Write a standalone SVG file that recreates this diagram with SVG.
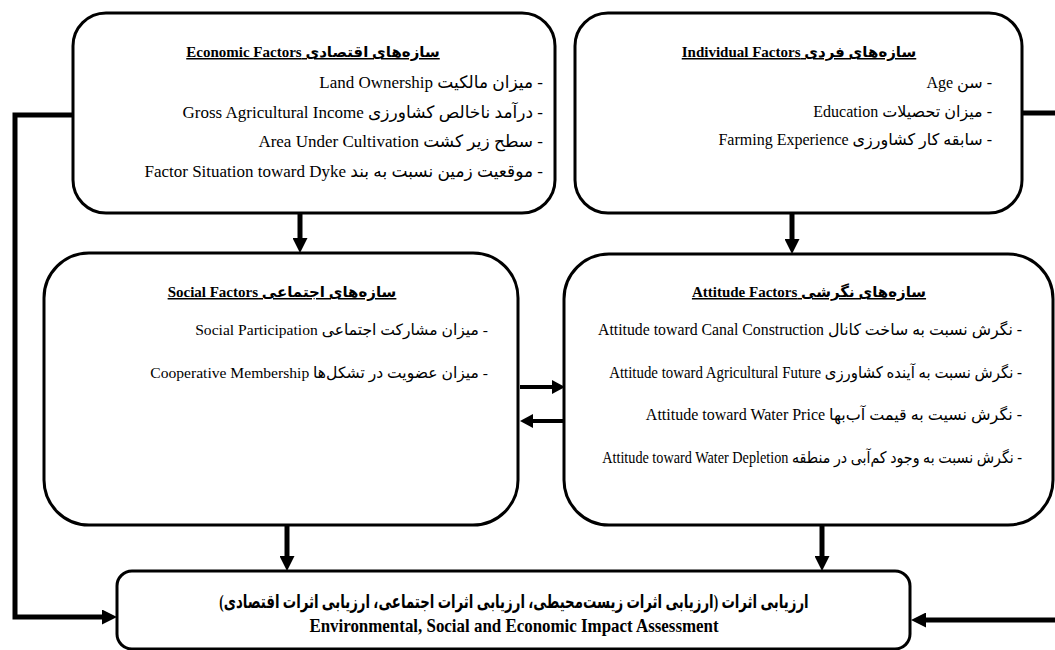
<svg xmlns="http://www.w3.org/2000/svg" width="1055" height="650" viewBox="0 0 1055 650">
<style>
.box{fill:#fff;stroke:#000;stroke-width:3}
.t{font-family:"Liberation Serif","DejaVu Sans",serif;font-size:16px;fill:#000;direction:rtl;text-anchor:start}
.e{font-size:17px}
.s{font-size:15.6px}
.h{font-family:"Liberation Serif","DejaVu Sans",serif;font-size:15px;font-weight:bold;fill:#000;direction:rtl;text-anchor:middle;text-decoration:underline}
.b{font-family:"Liberation Serif","DejaVu Sans",serif;font-weight:bold;fill:#000;direction:rtl;text-anchor:middle}
.c{fill:none;stroke:#000;stroke-width:5}
.cs{fill:none;stroke:#000;stroke-width:4}
</style>
<defs>
<marker id="ah" viewBox="0 0 15 15" markerWidth="15" markerHeight="15" markerUnits="userSpaceOnUse" refX="1" refY="7.5" orient="auto"><path d="M0,0 L15,7.5 L0,15 z" fill="#000"/></marker>
<marker id="ahs" viewBox="0 0 13 14" markerWidth="13" markerHeight="14" markerUnits="userSpaceOnUse" refX="1" refY="7" orient="auto"><path d="M0,0 L13,7 L0,14 z" fill="#000"/></marker>
</defs>
<rect width="1055" height="650" fill="#fff"/>
<g id="connectors">
<path class="c" d="M73,115 H15 V617 H103" marker-end="url(#ah)"/>
<path class="c" d="M1022,113 H1055"/>
<path class="c" d="M1055,620 H925" marker-end="url(#ah)"/>
<path class="c" d="M300,213 V239" marker-end="url(#ah)"/>
<path class="c" d="M792,213 V240" marker-end="url(#ah)"/>
<path class="c" d="M287,525 V557" marker-end="url(#ah)"/>
<path class="c" d="M822,525 V557" marker-end="url(#ah)"/>
<path class="cs" d="M520,387 H553" marker-end="url(#ahs)"/>
<path class="cs" d="M564,421 H532" marker-end="url(#ahs)"/>
</g>
<g id="economic">
<rect class="box" x="73" y="13" width="482" height="200" rx="33"/>
<text class="h" x="313" y="57">سازه‌های اقتصادی Economic Factors</text>
<text class="t e" x="543" y="88">- میزان مالکیت Land Ownership</text>
<text class="t e" x="543" y="118">- درآمد ناخالص کشاورزی Gross Agricultural Income</text>
<text class="t e" x="543" y="147">- سطح زیر کشت Area Under Cultivation</text>
<text class="t e" x="543" y="177">- موقعیت زمین نسبت به بند Factor Situation toward Dyke</text>
</g>
<g id="individual">
<rect class="box" x="575" y="13" width="447" height="200" rx="33"/>
<text class="h" x="799" y="57">سازه‌های فردی Individual Factors</text>
<text class="t" x="992" y="88">- سن  Age</text>
<text class="t" x="992" y="117">- میزان تحصیلات Education</text>
<text class="t" x="992" y="145">- سابقه کار کشاورزی Farming Experience</text>
</g>
<g id="social">
<rect class="box" x="44" y="253" width="474" height="272" rx="45"/>
<text class="h" x="282" y="297">سازه‌های اجتماعی Social Factors</text>
<text class="t s" x="488" y="335">- میزان مشارکت اجتماعی Social Participation</text>
<text class="t s" x="488" y="378">- میزان عضویت در تشکل‌ها Cooperative Membership</text>
</g>
<g id="attitude">
<rect class="box" x="564" y="254" width="489" height="271" rx="45"/>
<text class="h" x="809" y="297">سازه‌های نگرشی Attitude Factors</text>
<text class="t" x="1022" y="335" style="font-size:15.8px">- نگرش نسبت به ساخت کانال Attitude toward Canal Construction</text>
<text class="t" x="0" y="0" transform="translate(1022,378) scale(0.93,1)">- نگرش نسبت به آینده کشاورزی Attitude toward Agricultural Future</text>
<text class="t" x="1022" y="420">- نگرش نسیت به قیمت آب‌بها Attitude toward Water Price</text>
<text class="t" x="0" y="0" transform="translate(1022,463) scale(0.89,1)">- نگرش نسبت به وجود کم‌آبی در منطقه Attitude toward Water Depletion</text>
</g>
<g id="impact">
<rect class="box" x="117" y="571" width="793" height="78" rx="15"/>
<text class="b" x="0" y="0" style="font-size:19px" transform="translate(514,608) scale(0.7,1)">ارزیابی اثرات (ارزیابی اثرات زیست‌محیطی، ارزیابی اثرات اجتماعی، ارزیابی اثرات اقتصادی)</text>
<text class="b" x="0" y="0" style="font-size:18px;direction:ltr" transform="translate(514,632) scale(0.94,1)">Environmental, Social and Economic Impact Assessment</text>
</g>
</svg>
